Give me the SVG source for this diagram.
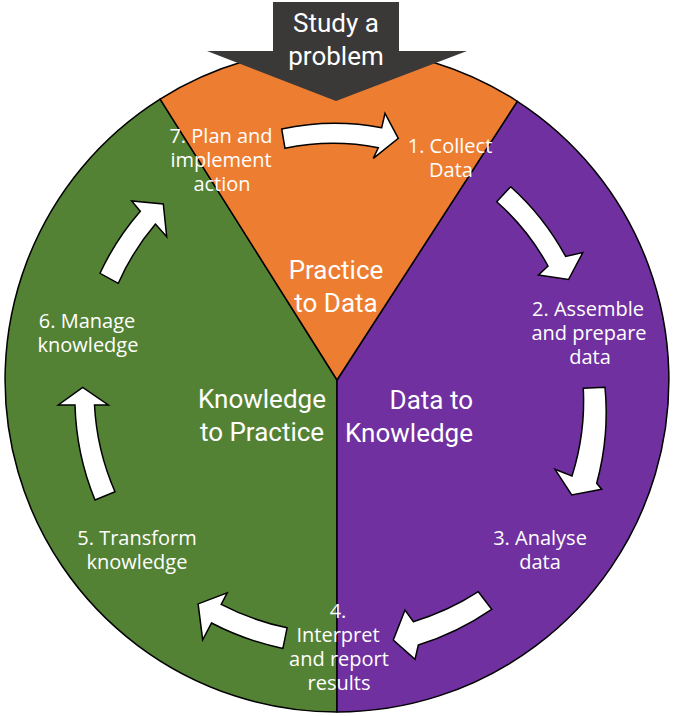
<svg xmlns="http://www.w3.org/2000/svg" width="673" height="716" viewBox="0 0 673 716">
<style>
.seg{stroke:#000;stroke-width:1.5;stroke-linejoin:round}
.arr{fill:#fff;stroke:#000;stroke-width:1.5;stroke-linejoin:miter}
.lbl{font-family:"Open Sans","Noto Sans",sans-serif;font-size:20px;fill:#fff;text-anchor:middle}
.big{font-family:Roboto,"Liberation Sans",sans-serif;font-size:26px;font-weight:400;fill:#fff;text-anchor:middle}
</style>
<rect width="673" height="716" fill="#fff"/>
<g id="segment-knowledge-to-practice">
<path class="seg" fill="#548235" d="M337,380 L337,712 A332,332 0 0 1 160.1,99.1 Z"/>
<text class="big" x="262" y="408">Knowledge</text>
<text class="big" x="262" y="441">to Practice</text>
</g>
<g id="segment-data-to-knowledge">
<path class="seg" fill="#7030A0" d="M337,380 L517.3,101.3 A332,332 0 0 1 337,712 Z"/>
<text class="big" style="text-anchor:end" x="473" y="409">Data to</text>
<text class="big" style="text-anchor:end" x="473" y="442">Knowledge</text>
</g>
<g id="segment-practice-to-data">
<path class="seg" fill="#ED7D31" d="M337,380 L160.1,99.1 A332,332 0 0 1 517.3,101.3 Z"/>
<text class="big" x="336" y="279">Practice</text>
<text class="big" x="336" y="312">to Data</text>
</g>
<g id="connectors">
<path class="arr" d="M285,148.3 L281.7,129 A257,257 0 0 1 381.7,127.7 L385,113.3 L398.3,138.3 L373.3,158.3 L378.3,147.7 A238,238 0 0 0 285,148.3 Z"/>
<path class="arr" d="M496.7,201.7 L510.7,186.7 A259,259 0 0 1 565.6,256.4 L582.8,252.6 L568.5,279.5 L538.5,275 L548,266 A239,239 0 0 0 496.7,201.7 Z"/>
<path class="arr" d="M583.3,388.3 L605,387.3 A268,268 0 0 1 596.7,483.3 L601.7,489.3 L571.7,495 L555,469.3 L572,476 A248,248 0 0 0 583.3,388.3 Z"/>
<path class="arr" d="M478.3,591.7 L491.7,609.3 A276,276 0 0 1 418.3,645 L415,659.3 L393.3,640 L405,610 L413.3,621.7 A254,254 0 0 0 478.3,591.7 Z"/>
<path class="arr" d="M287.1,627.8 L282.9,648.4 A274,274 0 0 1 211.5,623 L202.7,639.9 L198.1,603.9 L227.2,592.9 L221.2,604.4 A253,253 0 0 0 287.1,627.8 Z"/>
<path class="arr" d="M115,491.7 L95,500 A268,268 0 0 1 75,405 L58.3,405 L82.7,387.3 L108.3,405 L94.5,405 A248,248 0 0 0 115,491.7 Z"/>
<path class="arr" d="M118.3,283.3 L100,273.3 A261,261 0 0 1 140.3,211.2 L131.7,201 L163.3,204 L166.7,236.7 L155.5,224.1 A240,240 0 0 0 118.3,283.3 Z"/>
</g>
<g id="step-1">
<text class="lbl" x="450" y="153">1. Collect</text>
<text class="lbl" x="451" y="177">Data</text>
</g>
<g id="step-2">
<text class="lbl" x="588" y="316">2. Assemble</text>
<text class="lbl" x="589" y="340">and prepare</text>
<text class="lbl" x="590" y="364">data</text>
</g>
<g id="step-3">
<text class="lbl" x="540" y="545">3. Analyse</text>
<text class="lbl" x="540" y="569">data</text>
</g>
<g id="step-4">
<text class="lbl" x="338" y="618">4.</text>
<text class="lbl" x="338" y="642">Interpret</text>
<text class="lbl" x="339" y="666">and report</text>
<text class="lbl" x="339" y="690">results</text>
</g>
<g id="step-5">
<text class="lbl" x="137" y="545">5. Transform</text>
<text class="lbl" x="137" y="569">knowledge</text>
</g>
<g id="step-6">
<text class="lbl" x="87" y="328">6. Manage</text>
<text class="lbl" x="88" y="352">knowledge</text>
</g>
<g id="step-7">
<text class="lbl" x="221" y="143">7. Plan and</text>
<text class="lbl" x="221" y="167">implement</text>
<text class="lbl" x="222" y="191">action</text>
</g>
<g id="study-a-problem">
<polygon fill="#3B3838" points="273,2 399,2 399,51 467,51 336,101 207,51 273,51"/>
<text class="big" x="336" y="32">Study a</text>
<text class="big" x="336" y="65">problem</text>
</g>
</svg>
